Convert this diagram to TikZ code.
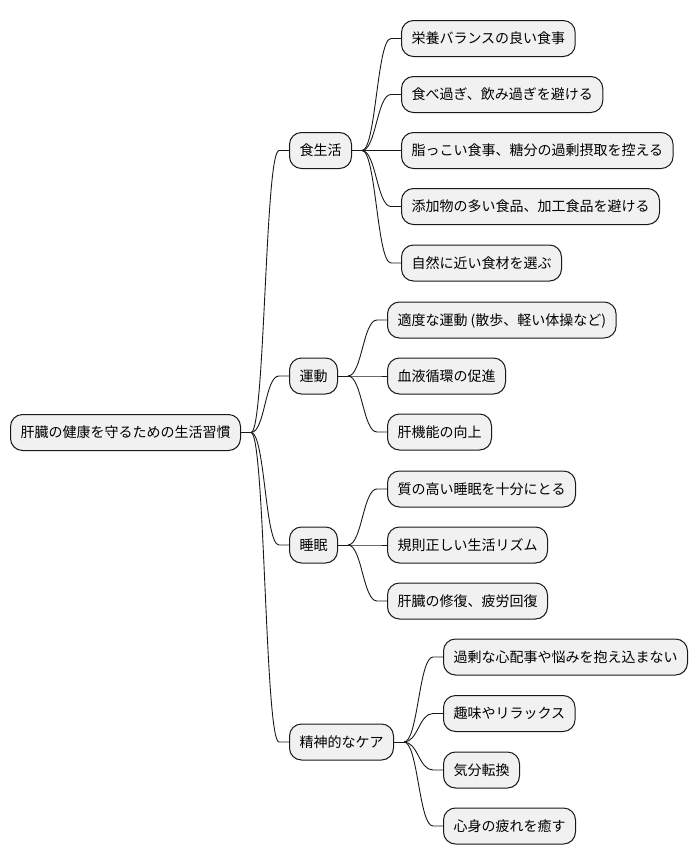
\documentclass[tikz,border=0pt]{standalone}
\usepackage{fontspec}
\setmainfont{Noto Sans CJK JP}
\tikzset{
  mm/.style={draw=black!90, fill=black!5.5, line width=1pt, rounded corners=12pt,
    anchor=west, minimum height=36pt, inner xsep=10pt, inner ysep=0pt,
    text height=12.3pt, text depth=1.7pt, font=\fontsize{14}{16}\selectfont},
  link/.style={draw=black!90, line width=0.9pt}
}
\newcommand\mmconn[2]{%
  \draw[link] (#1.east) -- ++(10,0) coordinate (ta);
  \path (#2.west) ++(-10,0) coordinate (tb);
  \draw[link] (ta) .. controls +(14,0) and +(-14,0) .. (tb) -- (#2.west);}
\begin{document}
\begin{tikzpicture}[x=1pt,y=-1pt]
\useasboundingbox (0,0) rectangle (698,865);
\node[mm] (r) at (10,432.5) {肝臓の健康を守るための生活習慣};
\node[mm] (a) at (289,150.5) {食生活};
\node[mm] (b) at (289,376) {運動};
\node[mm] (c) at (289,545) {睡眠};
\node[mm] (d) at (289,742) {精神的なケア};
\node[mm] (a1) at (401,38.5) {栄養バランスの良い食事};
\node[mm] (a2) at (401,94.5) {食べ過ぎ、飲み過ぎを避ける};
\node[mm] (a3) at (401,150.5) {脂っこい食事、糖分の過剰摂取を控える};
\node[mm] (a4) at (401,206.5) {添加物の多い食品、加工食品を避ける};
\node[mm] (a5) at (401,263) {自然に近い食材を選ぶ};
\node[mm] (b1) at (387,320) {適度な運動 (散歩、軽い体操など)};
\node[mm] (b2) at (387,376) {血液循環の促進};
\node[mm] (b3) at (387,432) {肝機能の向上};
\node[mm] (c1) at (387,489) {質の高い睡眠を十分にとる};
\node[mm] (c2) at (387,545) {規則正しい生活リズム};
\node[mm] (c3) at (387,601) {肝臓の修復、疲労回復};
\node[mm] (d1) at (443,657) {過剰な心配事や悩みを抱え込まない};
\node[mm] (d2) at (443,713.5) {趣味やリラックス};
\node[mm] (d3) at (443,770) {気分転換};
\node[mm] (d4) at (443,826) {心身の疲れを癒す};
\foreach \c in {a,b,c,d} {\mmconn{r}{\c}}
\foreach \c in {a1,a2,a3,a4,a5} {\mmconn{a}{\c}}
\foreach \c in {b1,b2,b3} {\mmconn{b}{\c}}
\foreach \c in {c1,c2,c3} {\mmconn{c}{\c}}
\foreach \c in {d1,d2,d3,d4} {\mmconn{d}{\c}}
\end{tikzpicture}
\end{document}
